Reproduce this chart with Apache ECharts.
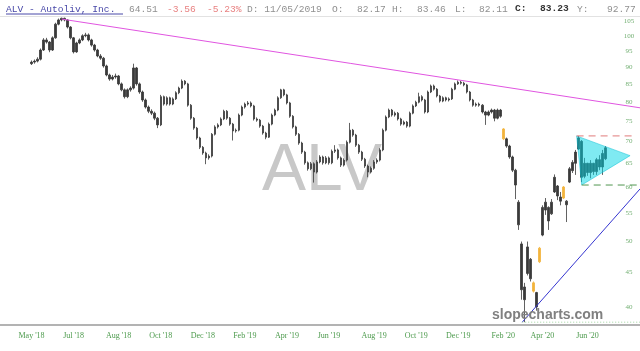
<!DOCTYPE html>
<html><head><meta charset="utf-8">
<script src="https://cdn.jsdelivr.net/npm/echarts@6/dist/echarts.min.js"></script>
<style>html,body{margin:0;padding:0;background:#fff}#c{width:640px;height:351px}</style>
</head><body><div id="c"></div>
<script>
// ---- data ----
const slotCount = 213;          // category slots across the plot
const firstSlot = 10;           // slot of the first candle
const opens = [
91.0,91.5,91.8,92.4,95.3,98.6,97.9,95.3,99.3,104.0,
105.5,106.1,105.5,103.0,99.3,94.7,97.6,98.6,100.0,100.3,
98.6,96.9,95.3,93.4,92.7,90.3,87.6,86.4,87.0,87.3,
85.0,83.3,81.4,83.3,83.8,89.7,85.0,82.7,80.5,78.6,
77.5,77.0,75.7,74.0,81.4,79.4,81.1,79.4,80.8,82.5,
83.8,85.8,85.0,79.1,75.7,73.2,70.8,68.6,67.3,66.2,
66.6,71.7,73.5,74.0,75.5,77.5,75.7,74.2,72.5,72.7,
76.5,78.6,79.4,79.7,78.9,75.5,75.2,73.7,72.0,71.0,
74.2,76.5,77.8,81.1,83.3,81.9,79.7,76.2,73.5,71.7,
69.6,67.5,65.1,63.8,64.9,63.1,65.3,66.4,65.1,66.2,
65.1,67.7,68.0,66.2,64.6,65.7,69.8,72.7,71.5,69.1,
67.5,65.9,64.4,63.1,63.9,65.3,65.7,68.0,72.7,76.0,
77.8,76.5,77.0,75.5,74.2,74.7,73.7,77.0,78.9,79.9,
81.4,80.5,77.3,82.7,84.4,83.5,81.6,80.2,81.1,80.5,
80.8,83.5,85.0,85.5,85.2,84.7,82.7,80.5,79.1,79.4,
79.1,77.3,76.5,77.3,77.8,75.7,77.8,73.0,70.6,68.9,
66.4,63.5,57.0,49.5,42.8,44.8,47.0,43.4,42.0,46.6,
51.0,55.5,56.0,54.8,59.0,60.2,58.0,57.8,57.2,61.0,
63.4,65.0,68.2,70.0,62.2,65.0,63.0,65.0,63.2,65.8,
64.2,66.0];
const closes = [
91.5,91.8,92.4,95.3,98.6,97.9,95.3,99.3,104.0,105.5,
106.1,105.5,103.0,99.3,94.7,97.6,98.6,100.0,100.3,98.6,
96.9,95.3,93.4,92.7,90.3,87.6,86.4,87.0,87.3,85.0,
83.3,81.4,83.3,83.8,89.7,85.0,82.7,80.5,78.6,77.5,
77.0,75.7,74.0,81.4,79.4,81.1,79.4,80.8,82.5,83.8,
85.8,85.0,79.1,75.7,73.2,70.8,68.6,67.3,66.2,66.6,
71.7,73.5,74.0,75.5,77.5,75.7,74.2,72.5,72.7,76.5,
78.6,79.4,79.7,78.9,75.5,75.2,73.7,72.0,71.0,74.2,
76.5,77.8,81.1,83.3,81.9,79.7,76.2,73.5,71.7,69.6,
67.5,65.1,63.8,64.9,63.1,65.3,66.4,65.1,66.2,65.1,
67.7,68.0,66.2,64.6,65.7,69.8,72.7,71.5,69.1,67.5,
65.9,64.4,63.1,63.9,65.3,65.7,68.0,72.7,76.0,77.8,
76.5,77.0,75.5,74.2,74.7,73.7,77.0,78.9,79.9,81.4,
80.5,77.3,82.7,84.4,83.5,81.6,80.2,81.1,80.5,80.8,
83.5,85.0,85.5,85.2,84.7,82.7,80.5,79.1,79.4,79.1,
77.3,76.5,77.3,77.8,75.7,77.8,76.2,70.6,68.9,66.4,
63.5,60.4,52.8,42.4,41.0,49.0,44.0,42.2,40.0,48.8,
56.0,57.0,53.5,57.0,62.0,58.2,57.2,60.0,56.5,63.8,
65.2,67.5,70.8,62.0,65.0,63.0,65.0,63.2,65.8,64.2,
67.2,68.5];
const lows = [
90.6,91.0,91.4,92.0,95.0,97.4,94.6,95.0,99.0,103.6,
105.0,105.0,102.5,98.8,94.2,94.4,97.2,98.2,99.5,98.1,
96.4,94.8,93.0,92.2,89.8,87.2,85.9,86.0,86.5,84.6,
82.9,80.9,81.0,82.8,83.4,84.5,82.2,80.0,78.2,77.0,
76.5,75.2,73.2,73.7,79.0,79.0,79.0,79.1,80.5,82.1,
83.5,84.6,78.7,75.3,72.8,70.4,68.2,66.9,64.8,65.8,
66.3,71.4,73.1,73.7,75.2,75.3,73.8,70.2,72.1,72.4,
76.2,78.2,79.0,78.5,75.1,74.8,73.3,71.6,70.5,70.8,
73.9,76.2,77.5,80.8,81.5,79.3,75.8,73.1,71.3,69.2,
67.1,64.7,63.4,63.5,60.9,62.8,65.0,64.7,64.8,64.7,
64.8,67.3,65.8,64.2,64.3,65.4,69.5,71.1,68.7,67.1,
65.5,64.0,62.0,62.8,63.6,64.9,65.4,67.7,72.4,75.7,
76.1,76.1,75.1,73.8,73.9,73.3,73.4,76.7,78.6,79.6,
80.1,76.9,77.0,82.4,83.1,81.2,79.8,79.9,80.1,80.1,
80.5,83.2,84.7,84.8,84.3,82.3,80.1,78.7,78.7,78.7,
76.9,74.0,76.2,76.9,74.9,75.4,75.8,70.3,68.5,66.0,
63.1,57.6,51.9,41.0,38.0,44.5,43.6,42.0,39.5,46.4,
50.8,54.6,51.9,54.6,58.8,57.4,56.4,57.6,53.3,60.8,
62.9,62.5,68.0,61.0,61.8,62.3,61.8,62.5,62.5,63.5,
62.5,65.7];
const highs = [
92.0,92.3,93.0,95.8,99.2,99.3,98.2,99.8,104.5,106.0,
106.3,106.3,105.8,103.3,99.6,98.0,99.1,100.5,101.0,100.8,
99.0,97.3,95.7,94.0,93.1,90.7,88.0,87.6,88.0,87.6,
85.4,83.7,83.7,84.3,91.0,90.0,85.4,83.1,80.9,79.0,
78.0,77.4,76.0,81.9,81.7,81.5,81.4,81.2,82.9,84.2,
86.3,86.1,85.3,79.4,76.0,73.5,71.1,68.9,67.6,67.0,
72.0,73.9,74.4,75.9,77.9,77.8,76.0,74.5,73.1,76.9,
79.0,79.8,80.2,80.1,79.2,75.9,75.5,74.0,72.3,74.6,
76.9,78.2,81.5,83.6,83.6,82.2,80.0,76.5,73.8,72.0,
69.9,67.8,65.4,65.3,65.2,65.7,66.8,66.7,66.6,66.5,
68.1,69.1,68.3,66.5,66.1,70.2,74.5,73.0,71.8,69.4,
67.8,66.2,64.7,64.3,65.7,66.1,68.4,73.1,76.4,78.2,
78.1,77.4,77.3,75.8,75.1,75.0,77.4,79.3,80.3,82.5,
81.8,80.8,83.1,84.8,84.8,83.8,81.9,81.5,81.4,81.2,
83.9,85.4,86.0,85.9,85.6,85.0,83.0,80.8,79.8,79.8,
79.4,77.6,77.7,78.2,78.1,78.2,78.1,73.2,70.9,69.2,
66.7,63.8,57.4,49.9,43.4,49.9,47.2,43.6,42.1,49.0,
56.4,57.8,56.2,57.6,62.6,60.4,59.0,60.2,57.4,64.2,
65.7,68.0,71.3,70.3,66.2,65.1,65.7,65.1,66.2,66.8,
68.0,68.9];
const highlightSlots = [167, 177, 179, 187];
const xTickSlots = [10, 24, 39, 53, 67, 81, 95, 109, 124, 138, 152, 167, 180, 195];
const xTickLabels = ["May '18","Jul '18","Aug '18","Oct '18","Dec '18","Feb '19","Apr '19","Jun '19","Aug '19","Oct '19","Dec '19","Feb '20","Apr '20","Jun '20"];
const yTicks = [40, 45, 50, 55, 60, 65, 70, 75, 80, 85, 90, 95, 100, 105];
const yLabelSlot = 208.8;
const resistanceLine = [[20, 105.8], [212.5, 78.4]];
const supportLine = [[173.3, 38.0], [212.5, 59.6]];
const triangle = [[191.4, 71.3], [193.1, 60.4], [209.2, 66.7]];
const upperLevel = [[191.4, 71.3], [210.2, 71.3]];
const lowerLevel = [[193.1, 60.4], [212.5, 60.4]];
const lowLevel = [[173.3, 38.0], [212.5, 38.0]];

// ---- build ----
const categories = [];
for (let s = 0; s < slotCount; s++) categories.push(String(s));
const candleData = [];
for (let s = 0; s < slotCount; s++) {
  const k = s - firstSlot;
  if (k < 0 || k >= closes.length) { candleData.push('-'); continue; }
  const item = { value: [opens[k], closes[k], lows[k], highs[k]] };
  if (highlightSlots.indexOf(s) >= 0) {
    item.itemStyle = { color: '#f2b43c', color0: '#f2b43c', borderColor: '#f2b43c', borderColor0: '#f2b43c' };
  }
  candleData.push(item);
}
const green = '#4c9a4c';
const hdrFont = '9.6px "Liberation Mono"';
const hdrBold = 'bold 9.6px "Liberation Mono"';
function hdr(x, text, fill, font) {
  return { type: 'text', x: x, y: 9, style: { text: text, font: font || hdrFont, fill: fill, verticalAlign: 'middle', textVerticalAlign: 'middle' } };
}
const chart = echarts.init(document.getElementById('c'), null, { renderer: 'canvas' });
chart.setOption({
  animation: false,
  backgroundColor: '#ffffff',
  grid: { left: 0, right: 0, top: 17, bottom: 26, containLabel: false, outerBoundsMode: 'none' },
  xAxis: [{
    type: 'category', data: categories, boundaryGap: true,
    axisLine: { show: true, lineStyle: { color: '#9a9a9a', width: 1.5 } },
    axisTick: { show: false },
    splitLine: { show: false },
    axisLabel: {
      interval: function (idx) { return xTickSlots.indexOf(idx) >= 0; },
      formatter: function (val, idx) { const j = xTickSlots.indexOf(idx); return j >= 0 ? xTickLabels[j] : ''; },
      fontFamily: 'Liberation Serif', fontSize: 8, color: green, margin: 7, hideOverlap: false
    }
  }, {
    type: 'value', min: -0.5, max: slotCount - 0.5, show: false
  }],
  yAxis: [{
    type: 'log', logBase: 10, min: 37.64, max: 106.55, position: 'right',
    axisLine: { show: false }, axisTick: { show: false }, axisLabel: { show: false }, splitLine: { show: false }
  }],
  graphic: [
    { type: 'line', shape: { x1: 0, y1: 16.5, x2: 640, y2: 16.5 }, style: { stroke: '#e2e2e2', lineWidth: 1 }, z: 1 },
    { type: 'text', x: 322, y: 172, z: 0, style: { text: 'ALV', font: '66px "Liberation Sans"', fill: '#c8c8c8', align: 'center', verticalAlign: 'middle', textAlign: 'center', textVerticalAlign: 'middle' } },
    hdr(6, 'ALV - Autoliv, Inc.', '#4848a8'),
    { type: 'line', shape: { x1: 6, y1: 14, x2: 123, y2: 14 }, style: { stroke: '#4848a8', lineWidth: 1 } },
    hdr(129, '64.51', '#909090'),
    hdr(167, '-3.56', '#e88080'),
    hdr(207, '-5.23%', '#e88080'),
    hdr(247, 'D: 11/05/2019', '#909090'),
    hdr(332, 'O:', '#909090'),
    hdr(357, '82.17', '#909090'),
    hdr(392, 'H:', '#909090'),
    hdr(417, '83.46', '#909090'),
    hdr(455, 'L:', '#909090'),
    hdr(479, '82.11', '#909090'),
    hdr(515, 'C:', '#333333', hdrBold),
    hdr(540, '83.23', '#333333', hdrBold),
    hdr(577, 'Y:', '#909090'),
    hdr(607, '92.77', '#909090'),
    { type: 'text', x: 492, y: 315, z: 100, style: { text: 'slopecharts.com', font: 'bold 14px "Liberation Sans"', fill: '#808080', verticalAlign: 'middle', textVerticalAlign: 'middle' } }
  ],
  series: [
    {
      type: 'candlestick', xAxisIndex: 0, yAxisIndex: 0, data: candleData, barWidth: 2, z: 2,
      itemStyle: { color: '#3a3a3a', color0: '#3a3a3a', borderColor: '#3a3a3a', borderColor0: '#3a3a3a', borderWidth: 0.8 },
      emphasis: { disabled: true }
    },
    {
      type: 'custom', xAxisIndex: 1, yAxisIndex: 0, data: [0], z: 3, silent: true,
      renderItem: function (params, api) {
        return { type: 'polygon', shape: { points: triangle.map(function (p) { return api.coord(p); }) },
          style: { fill: 'rgba(0,214,230,0.5)', stroke: 'rgba(0,190,210,0.6)', lineWidth: 0.8 } };
      }
    },
    { type: 'line', xAxisIndex: 1, yAxisIndex: 0, data: resistanceLine, symbol: 'none', z: 4, silent: true,
      lineStyle: { color: '#e055e0', width: 1 } },
    { type: 'line', xAxisIndex: 1, yAxisIndex: 0, data: supportLine, symbol: 'none', z: 4, silent: true,
      lineStyle: { color: '#3535d0', width: 1 } },
    { type: 'line', xAxisIndex: 1, yAxisIndex: 0, data: upperLevel, symbol: 'none', z: 4, silent: true,
      lineStyle: { color: '#e07a7a', width: 1, type: [7, 5] } },
    { type: 'line', xAxisIndex: 1, yAxisIndex: 0, data: lowerLevel, symbol: 'none', z: 4, silent: true,
      lineStyle: { color: '#4f954f', width: 1, type: [7, 5] } },
    { type: 'line', xAxisIndex: 1, yAxisIndex: 0, data: lowLevel, symbol: 'none', z: 4, silent: true,
      lineStyle: { color: '#9fd49f', width: 1, type: [1, 2] } },
    {
      type: 'scatter', xAxisIndex: 1, yAxisIndex: 0, z: 5, silent: true,
      data: yTicks.map(function (v) { return [yLabelSlot, v]; }),
      symbolSize: 1, itemStyle: { color: 'rgba(0,0,0,0)' },
      label: { show: true, position: 'inside', formatter: function (p) { return String(p.value[1]); },
        fontFamily: 'Liberation Serif', fontSize: 7, color: green }
    }
  ]
});
</script>
</body></html>
